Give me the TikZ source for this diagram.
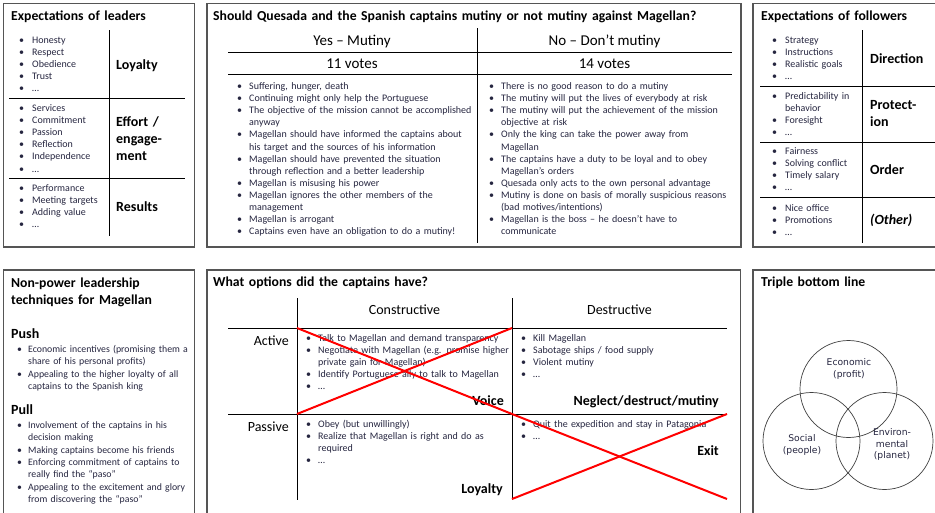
\documentclass[tikz,border=0pt]{standalone}
\usepackage{fontspec}
\setmainfont{Carlito}
\newfontfamily\vennfont{DejaVu Sans}
\definecolor{bodytxt}{HTML}{262640}
\definecolor{frame}{HTML}{555555}
\definecolor{cross}{HTML}{FF0000}
\newlength\bulletgap
% bullet items with a hanging indent; \bfirst opens a list, \bitem continues it
\newcommand\bfirst{\hangindent=\bulletgap\hangafter=1\noindent\makebox[\bulletgap][l]{\textbullet}}
\newcommand\bitem{\par\bfirst}
\tikzset{
  panel/.style={draw=frame, line width=1.3pt},
  rule/.style={draw=black, line width=0.8pt},
  ptitle/.style={anchor=base west, inner sep=0pt, text width=560pt, align=left,
    font=\fontsize{13.7}{17.5}\selectfont\bfseries},
  blist/.style={anchor=base west, inner sep=0pt, text width=300pt, align=left,
    text=bodytxt, font=\fontsize{10}{12.1}\selectfont,
    execute at begin node={\setlength\bulletgap{#1}}},
  blist/.default=13pt,
  tag/.style={anchor=base west, inner sep=0pt, text width=80pt, align=left,
    font=\fontsize{14}{17}\selectfont\bfseries},
  head/.style={anchor=base, inner sep=0pt, font=\fontsize{15}{18}\selectfont},
  colhead/.style={anchor=base, inner sep=0pt, font=\fontsize{14}{17}\selectfont},
  rowhead/.style={anchor=base east, inner sep=0pt, font=\fontsize{14}{17}\selectfont},
  corner/.style={anchor=base east, inner sep=0pt, font=\fontsize{14}{17}\selectfont\bfseries},
  xline/.style={draw=cross, line width=2pt},
  venn/.style={draw=black!75, line width=0.7pt},
  vtext/.style={anchor=base, inner sep=0pt, text width=60pt, align=center,
    font=\vennfont\fontsize{9.2}{11.8}\selectfont, text=bodytxt},
}
\begin{document}
\begin{tikzpicture}[x=1pt,y=-1pt]
\useasboundingbox (0,0) rectangle (935,512);
\clip (0,0) rectangle (935,512);
\fill[white] (0,0) rectangle (935,512);

% ---------------- Expectations of leaders ----------------
\draw[panel] (3.5,3.5) rectangle (194.5,247);
\node[ptitle] (lt) at (11,20.5) {Expectations of leaders};
\coordinate (lv1) at (109,30); \coordinate (lv2) at (109,236);
\draw[rule] (lv1) -- (lv2);
\coordinate (lh1a) at (9,98);  \coordinate (lh1b) at (185,98);
\coordinate (lh2a) at (9,178); \coordinate (lh2b) at (185,178);
\draw[rule] (lh1a) -- (lh1b);
\draw[rule] (lh2a) -- (lh2b);
\node[blist] (l1) at (19,43.5) {\bfirst Honesty\bitem Respect\bitem Obedience\bitem Trust\bitem …\par};
\node[tag] (l1t) at (116,69.5) {Loyalty};
\node[blist] (l2) at (19,111.5) {\bfirst Services\bitem Commitment\bitem Passion\bitem Reflection\bitem Independence\bitem …\par};
\node[tag] (l2t) at (116,126.5) {Effort /\\engage-\\ment};
\node[blist] (l3) at (19,191.5) {\bfirst Performance\bitem Meeting targets\bitem Adding value\bitem …\par};
\node[tag] (l3t) at (116,211.5) {Results};

% ---------------- Mutiny vote ----------------
\draw[panel] (207,3.5) rectangle (741,247);
\node[ptitle] (mt) at (213,20.5) {Should Quesada and the Spanish captains mutiny or not mutiny against Magellan?};
\coordinate (mv1) at (477,28); \coordinate (mv2) at (477,243);
\draw[rule] (mv1) -- (mv2);
\coordinate (mh1a) at (228,52); \coordinate (mh1b) at (732,52);
\coordinate (mh2a) at (228,74); \coordinate (mh2b) at (732,74);
\draw[rule] (mh1a) -- (mh1b);
\draw[rule] (mh2a) -- (mh2b);
\node[head] (yes) at (352,45) {Yes – Mutiny};
\node[head] (no) at (604.5,45) {No – Don’t mutiny};
\node[head] (yesv) at (352,68) {11 votes};
\node[head] (nov) at (604.5,68) {14 votes};
\node[blist=12pt] (yl) at (237,89.5) {%
\bfirst Suffering, hunger, death
\bitem Continuing might only help the Portuguese
\bitem The objective of the mission cannot be accomplished\newline anyway
\bitem Magellan should have informed the captains about\newline his target and the sources of his information
\bitem Magellan should have prevented the situation\newline through reflection and a better leadership
\bitem Magellan is misusing his power
\bitem Magellan ignores the other members of the\newline management
\bitem Magellan is arrogant
\bitem Captains even have an obligation to do a mutiny!\par};
\node[blist=12pt] (nl) at (489,89.5) {%
\bfirst There is no good reason to do a mutiny
\bitem The mutiny will put the lives of everybody at risk
\bitem The mutiny will put the achievement of the mission\newline objective at risk
\bitem Only the king can take the power away from\newline Magellan
\bitem The captains have a duty to be loyal and to obey\newline Magellan’s orders
\bitem Quesada only acts to the own personal advantage
\bitem Mutiny is done on basis of morally suspicious reasons\newline (bad motives/intentions)
\bitem Magellan is the boss – he doesn’t have to\newline communicate\par};

% ---------------- Expectations of followers ----------------
\draw[panel] (753,3.5) rectangle (945,247);
\node[ptitle] (ft) at (761,20.5) {Expectations of followers};
\coordinate (fv1) at (862,30); \coordinate (fv2) at (862,243);
\draw[rule] (fv1) -- (fv2);
\foreach \yy [count=\k] in {86,142,197}{
  \coordinate (fh\k a) at (760,\yy); \coordinate (fh\k b) at (945,\yy);
  \draw[rule] (fh\k a) -- (fh\k b);
}
\node[blist] (f1) at (772,43.5) {\bfirst Strategy\bitem Instructions\bitem Realistic goals\bitem …\par};
\node[tag] (f1t) at (870,63.5) {Direction};
\node[blist] (f2) at (772,99.5) {\bfirst Predictability in\newline behavior\bitem Foresight\bitem …\par};
\node[tag] (f2t) at (870,109.5) {Protect-\\ion};
\node[blist] (f3) at (772,154.5) {\bfirst Fairness\bitem Solving conflict\bitem Timely salary\bitem …\par};
\node[tag] (f3t) at (870,174.5) {Order};
\node[blist] (f4) at (772,211.5) {\bfirst Nice office\bitem Promotions\bitem …\par};
\node[tag] (f4t) at (870,224.5) {\itshape (Other)};

% ---------------- Non-power leadership ----------------
\draw[panel] (3.5,270) rectangle (194.5,520);
\node[ptitle] (nt) at (11,287) {Non-power leadership\\techniques for Magellan};
\node[tag] (push) at (11,338.5) {Push};
\node[blist=11pt,font=\fontsize{9.8}{12.3}\selectfont] (pushl) at (17,352.5) {%
\bfirst Economic incentives (promising them a\newline share of his personal profits)
\bitem Appealing to the higher loyalty of all\newline captains to the Spanish king\par};
\node[tag] (pull) at (11,414.5) {Pull};
\node[blist=11pt,font=\fontsize{9.8}{12.3}\selectfont] (pulll) at (17,428.5) {%
\bfirst Involvement of the captains in his\newline decision making
\bitem Making captains become his friends
\bitem Enforcing commitment of captains to\newline really find the “paso”
\bitem Appealing to the excitement and glory\newline from discovering the “paso”\par};

% ---------------- Options of the captains ----------------
\draw[panel] (207,270) rectangle (740.5,520);
\node[ptitle] (ot) at (213,286.5) {What options did the captains have?};
\coordinate (ov1a) at (297,298); \coordinate (ov1b) at (297,500);
\coordinate (ov2a) at (512,298); \coordinate (ov2b) at (512,500);
\draw[rule] (ov1a) -- (ov1b);
\draw[rule] (ov2a) -- (ov2b);
\coordinate (oh1a) at (228,328); \coordinate (oh1b) at (727,328);
\coordinate (oh2a) at (228,414); \coordinate (oh2b) at (727,414);
\draw[rule] (oh1a) -- (oh1b);
\draw[rule] (oh2a) -- (oh2b);
\node[colhead] (cons) at (404.5,314.5) {Constructive};
\node[colhead] (dest) at (619.5,314.5) {Destructive};
\node[rowhead] (act) at (289,345.5) {Active};
\node[rowhead] (pas) at (289,431.5) {Passive};
\node[blist=12pt] (ac) at (306,341.5) {%
\bfirst Talk to Magellan and demand transparency
\bitem Negotiate with Magellan (e.g. promise higher\newline private gain for Magellan)
\bitem Identify Portuguese ally to talk to Magellan
\bitem …\par};
\node[corner] (voice) at (504,405.5) {Voice};
\node[blist=12pt] (ad) at (521,341.5) {%
\bfirst Kill Magellan
\bitem Sabotage ships / food supply
\bitem Violent mutiny
\bitem …\par};
\node[corner] (negl) at (719,405.5) {Neglect/destruct/mutiny};
\node[blist=12pt] (pc) at (306,427.5) {%
\bfirst Obey (but unwillingly)
\bitem Realize that Magellan is right and do as\newline required
\bitem …\par};
\node[corner] (loy) at (503,493.5) {Loyalty};
\node[blist=12pt] (pd) at (521,427.5) {%
\bfirst Quit the expedition and stay in Patagonia
\bitem …\par};
\node[corner] (exit) at (719,455.5) {Exit};
% crossed-out cells
\coordinate (x1a) at (297,328); \coordinate (x1b) at (512,414);
\coordinate (x1c) at (297,414); \coordinate (x1d) at (512,328);
\draw[xline] (x1a) -- (x1b);
\draw[xline] (x1c) -- (x1d);
\coordinate (x2a) at (512,414); \coordinate (x2b) at (727,499);
\coordinate (x2c) at (512,499); \coordinate (x2d) at (727,414);
\draw[xline] (x2a) -- (x2b);
\draw[xline] (x2c) -- (x2d);

% ---------------- Triple bottom line ----------------
\draw[panel] (753,270) rectangle (945,520);
\node[ptitle] (tt) at (761,286.5) {Triple bottom line};
\node[venn, circle, minimum size=97pt, inner sep=0pt] (eco) at (848.5,389) {};
\node[venn, circle, minimum size=97pt, inner sep=0pt] (soc) at (811.5,441) {};
\node[venn, circle, minimum size=97pt, inner sep=0pt] (env) at (884.5,441) {};
\node[vtext] (ecot) at (849,365.3) {Economic\\(profit)};
\node[vtext] (soct) at (802,441.3) {Social\\(people)};
\node[vtext] (envt) at (892,435.3) {Environ-\\mental\\(planet)};
\end{tikzpicture}
\end{document}
